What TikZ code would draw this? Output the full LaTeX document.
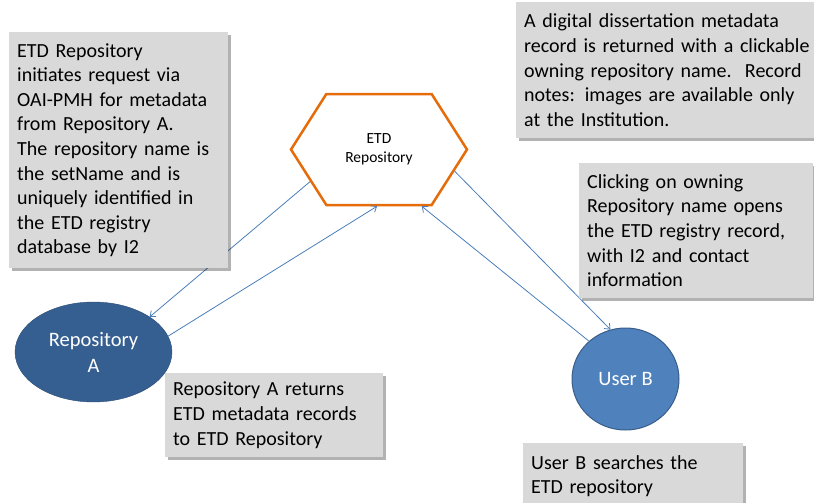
\documentclass[tikz,border=0pt]{standalone}
\usepackage{fontspec}
\setmainfont{Carlito}
\usetikzlibrary{arrows.meta, shapes.geometric, shapes.symbols, shadows}
\definecolor{noteGrey}{HTML}{D9D9D9}
\definecolor{repoBlue}{HTML}{365F91}
\definecolor{repoEdge}{HTML}{2C4D75}
\definecolor{userBlue}{HTML}{4F81BD}
\definecolor{userEdge}{HTML}{385D8A}
\definecolor{hexOrange}{HTML}{E46C0A}
\definecolor{linkBlue}{HTML}{4A7EBB}
\begin{document}
\begin{tikzpicture}[
x=1pt, y=-1pt,
note/.style={fill=noteGrey, rectangle, anchor=north west, align=left, inner xsep=8pt, inner ysep=4pt, font=\fontsize{20}{24.6}\selectfont, drop shadow={shadow xshift=3pt, shadow yshift=-3pt, fill=black, opacity=0.3}},
actor/.style={ellipse, text=white, align=center, font=\fontsize{20.5}{26}\selectfont},
link/.style={-{Straight Barb[angle=80:6pt]}, draw=linkBlue, line width=0.8pt} ]

\useasboundingbox (0,0) rectangle (814,503);

\node[signal, signal to=west and east, signal pointer angle=115, draw=hexOrange, line width=2.5pt, minimum width=176pt, minimum height=111pt, align=center, font=\fontsize{15.5}{19}\selectfont] (etd) at (379,149.5) {ETD\\Repository};
\node[actor, fill=repoBlue, draw=repoEdge, minimum width=157pt, minimum height=100pt] (repoA) at (93.5,352) {Repository\\A};
\node[actor, fill=userBlue, draw=userEdge, line width=1pt, minimum width=107pt, minimum height=102pt] (userB) at (625.5,379) {User B};

\draw[link] (etd.205) -- (repoA.32);
\draw[link] (repoA.12) -- (etd.268);
\draw[link] (etd.344) -- (userB.107);
\draw[link] (userB.134) -- (etd.307);

\node[note, text width=203pt, minimum height=236pt] (requestNote) at (9,32) {ETD Repository\\initiates request via\\OAI-PMH for metadata\\from Repository A.\\The repository name is\\the setName and is\\uniquely identified in\\the ETD registry\\database by I2};
\node[note, text width=294pt, minimum height=136pt] (recordNote) at (516,2) {A digital dissertation metadata\\record is returned with a clickable\\owning repository name.\ \ Record\\notes: images are available only\\at the Institution.};
\node[note, text width=218pt, minimum height=135pt] (clickNote) at (579,163) {Clicking on owning\\Repository name opens\\the ETD registry record,\\with I2 and contact\\information};
\node[note, text width=202pt, minimum height=84pt] (returnNote) at (165,373) {Repository A returns\\ETD metadata records\\to ETD Repository};
\node[note, text width=204pt, minimum height=66pt] (searchNote) at (523,443) {User B searches the\\ETD repository};

\end{tikzpicture}
\end{document}
